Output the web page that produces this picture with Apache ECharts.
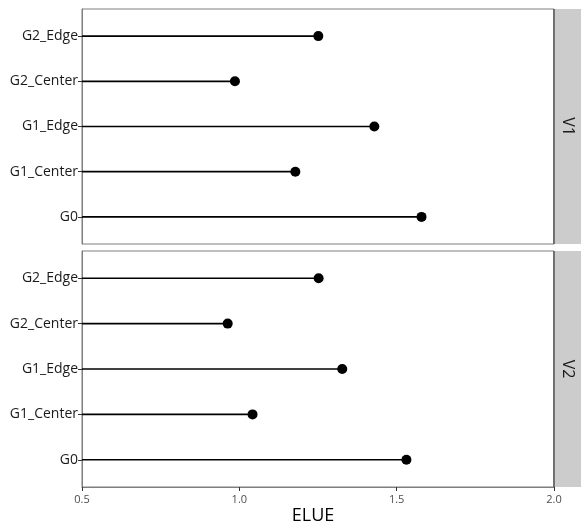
<!DOCTYPE html>
<html>
<head>
<meta charset="utf-8">
<script src="https://cdn.jsdelivr.net/npm/echarts@6/dist/echarts.min.js"></script>
<style>
html,body{margin:0;padding:0;background:#fff;}
#c{width:581px;height:525px;}
</style>
</head>
<body>
<div id="c"></div>
<script>
// ---- data ----
const categories = ['G0', 'G1_Center', 'G1_Edge', 'G2_Center', 'G2_Edge'];
const panels = ['V1', 'V2'];
const valuesV1 = [1.579, 1.178, 1.429, 0.986, 1.251];
const valuesV2 = [1.531, 1.042, 1.327, 0.963, 1.252];
const xTicks = [0.5, 1.0, 1.5, 2.0];
const xTitle = 'ELUE';

const FONT = '"Open Sans", "Noto Sans", sans-serif';
const xMin = xTicks[0], xMax = xTicks[xTicks.length - 1];
const catIdx = categories.map((c, i) => i + 1);

const grids = [
  {left: 82, top: 9, width: 472, height: 235},
  {left: 82, top: 251, width: 472, height: 236}
];

function makeData(vals) { return vals.map((v, i) => [v, i + 1]); }

function renderItem(params, api) {
  const v = api.value(0), y = api.value(1);
  const s = api.coord([xMin, y]);
  const e = api.coord([v, y]);
  return {
    type: 'group',
    children: [
      {type: 'line', shape: {x1: s[0], y1: s[1], x2: e[0], y2: e[1]},
       style: {stroke: '#000', lineWidth: 1.7}},
      {type: 'circle', shape: {cx: e[0], cy: e[1], r: 5},
       style: {fill: '#000'}}
    ]
  };
}

const xAxes = grids.map((g, i) => ({
  type: 'value', gridIndex: i, min: xMin, max: xMax, interval: 0.5,
  axisLine: {show: i === 1, lineStyle: {color: '#7f7f7f', width: 1}},
  axisTick: {show: i === 1, length: 4, lineStyle: {color: '#333'}},
  axisLabel: {show: i === 1, formatter: v => v.toFixed(1), color: '#4d4d4d',
              fontSize: 11, fontFamily: FONT, margin: 7},
  splitLine: {show: false},
  name: i === 1 ? xTitle : '',
  nameLocation: 'middle', nameGap: 20,
  nameTextStyle: {fontSize: 18, color: '#000', fontFamily: FONT, padding: [0, 10, 0, 0]}
}));

const yAxes = grids.map((g, i) => ({
  type: 'value', gridIndex: i, min: 0.4, max: 5.6,
  axisLine: {show: true, lineStyle: {color: '#7f7f7f', width: 1}},
  axisTick: {show: true, length: 4, customValues: catIdx, lineStyle: {color: '#333'}},
  axisLabel: {customValues: catIdx, formatter: v => categories[Math.round(v) - 1] || '',
              color: '#1a1a1a', fontSize: 14, fontFamily: FONT, margin: 4},
  splitLine: {show: false}
}));

const graphics = [];
grids.forEach((g, i) => {
  graphics.push({
    type: 'rect', left: g.left + g.width, top: g.top,
    shape: {x: 0, y: 0, width: 40, height: g.height},
    style: {fill: '#cccccc', stroke: null}, z: 10
  });
  graphics.push({
    type: 'line', shape: {x1: g.left + g.width, y1: g.top, x2: g.left + g.width, y2: g.top + g.height},
    style: {stroke: '#555', lineWidth: 1.5}, z: 11
  });
  graphics.push({
    type: 'text', x: g.left + g.width + 14, y: g.top + g.height / 2,
    rotation: -Math.PI / 2,
    style: {text: panels[i], fontSize: 16, fontFamily: FONT, fill: '#1a1a1a',
            align: 'center', verticalAlign: 'middle'}, z: 12
  });
});

const chart = echarts.init(document.getElementById('c'), null, {renderer: 'canvas'});
chart.setOption({
  animation: false,
  backgroundColor: '#fff',
  grid: grids.map(g => Object.assign({show: true, borderColor: '#7f7f7f', borderWidth: 1,
                                       backgroundColor: '#fff', containLabel: false,
                                       outerBoundsMode: 'none'}, g)),
  xAxis: xAxes,
  yAxis: yAxes,
  series: [
    {type: 'custom', xAxisIndex: 0, yAxisIndex: 0, data: makeData(valuesV1), renderItem: renderItem, clip: false},
    {type: 'custom', xAxisIndex: 1, yAxisIndex: 1, data: makeData(valuesV2), renderItem: renderItem, clip: false}
  ],
  graphic: graphics
});
</script>
</body>
</html>
